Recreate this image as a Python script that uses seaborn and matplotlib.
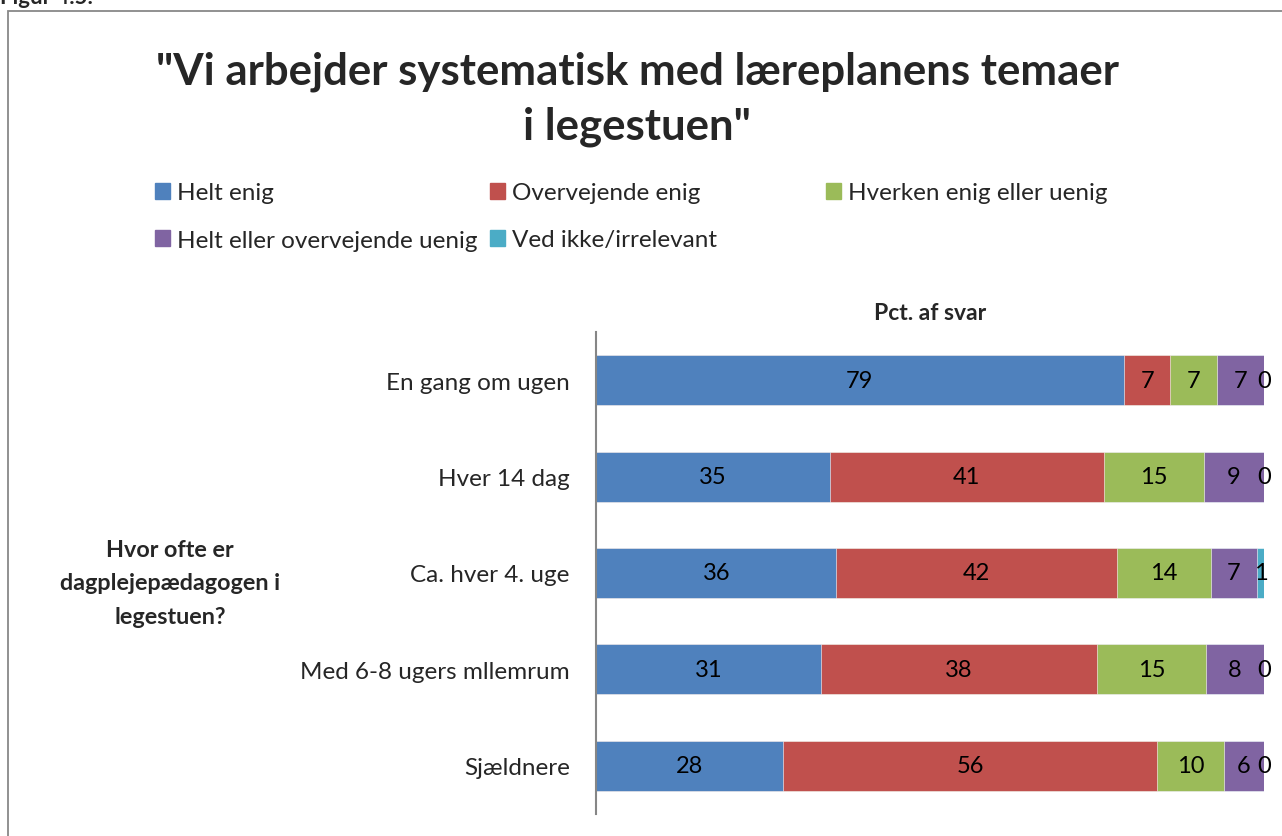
import numpy as np
import pandas as pd
import matplotlib.pyplot as plt
import seaborn as sns

# Data (percent of answers)
categories = ['En gang om ugen', 'Hver 14 dag', 'Ca. hver 4. uge',
              'Med 6-8 ugers mllemrum', 'Sjældnere']
series = ['Helt enig', 'Overvejende enig', 'Hverken enig eller uenig',
          'Helt eller overvejende uenig', 'Ved ikke/irrelevant']
helt_enig = [79, 35, 36, 31, 28]
overvejende_enig = [7, 41, 42, 38, 56]
hverken = [7, 15, 14, 15, 10]
uenig = [7, 9, 7, 8, 6]
ved_ikke = [0, 0, 1, 0, 0]

colors = ['#4F81BD', '#C0504D', '#9BBB59', '#8064A2', '#4BACC6']

sns.set_style('white')
plt.rcParams['font.family'] = ['Lato', 'DejaVu Sans']

vals = np.array([helt_enig, overvejende_enig, hverken, uenig, ved_ikke], dtype=float).T
pct = vals / vals.sum(axis=1, keepdims=True) * 100  # 100% stacked
cum = pct.cumsum(axis=1)

fig = plt.figure(figsize=(12.82, 8.37), dpi=100)
ax = fig.add_axes([596 / 1282, 22 / 837, 668 / 1282, 482 / 837])

# stacked bars: draw cumulative totals, widest first
for i in reversed(range(len(series))):
    df = pd.DataFrame({'cat': categories, 'val': cum[:, i]})
    sns.barplot(data=df, x='val', y='cat', orient='h', color=colors[i],
                saturation=1, width=0.52, ax=ax, edgecolor='white', linewidth=0.4)

# data labels
for r in range(len(categories)):
    for i in range(len(series)):
        left = cum[r, i] - pct[r, i]
        ax.text(left + pct[r, i] / 2, r, f'{int(vals[r, i])}',
                ha='center', va='center', fontsize=17, color='black')

ax.set_xlim(0, 100)
ax.set_ylim(4.5, -0.5)
ax.set_xlabel('')
ax.set_ylabel('')
ax.set_xticks([])
ax.tick_params(axis='y', length=0, pad=19, labelsize=17.5)
for s in ['top', 'right', 'bottom']:
    ax.spines[s].set_visible(False)
ax.spines['left'].set_color('#868686')
ax.spines['left'].set_linewidth(1.5)

ax.text(0.5, 1.04, 'Pct. af svar', transform=ax.transAxes, ha='center',
        va='center', fontsize=16.5, fontweight='bold')

# titles and axis label
fig.text(0.497, 1 - 99 / 837, '"Vi arbejder systematisk med læreplanens temaer\ni legestuen"',
         ha='center', va='center', fontsize=31.5, fontweight='bold', linespacing=1.45)
fig.text(170 / 1282, 1 - 584 / 837, 'Hvor ofte er\ndagplejepædagogen i\nlegestuen?',
         ha='center', va='center', fontsize=16.8, fontweight='bold', linespacing=1.75)
fig.text(0.0, 1 - 4 / 837, 'Figur 4.5.', ha='left', va='baseline',
         fontsize=16, fontweight='bold')

# legend, Excel style grid
legend_pos = [(155, 194), (490, 194), (826, 194), (155, 241), (490, 241)]
for i, name in enumerate(series):
    h = plt.Rectangle((0, 0), 1, 1, color=colors[i])
    x, y = legend_pos[i]
    fig.legend([h], [name], loc='center left', bbox_to_anchor=(x / 1282, 1 - y / 837),
               frameon=False, fontsize=17.5, handlelength=0.6, handleheight=0.6,
               handletextpad=0.3, borderaxespad=0, borderpad=0)

# outer frame
fig.add_artist(plt.Rectangle((8 / 1282, -0.01), 1.1, 0.01 + 1 - 12 / 837, fill=False,
                             edgecolor='#888888', linewidth=1.3, transform=fig.transFigure))

fig.savefig('out.png', dpi=100)
